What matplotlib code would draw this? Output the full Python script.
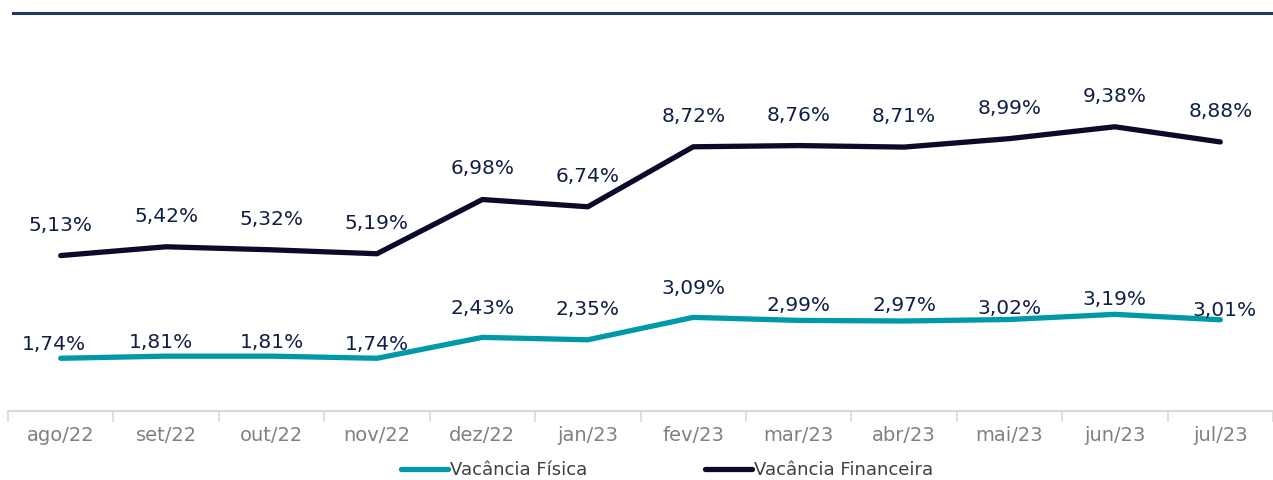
import matplotlib.pyplot as plt
import numpy as np

months = ["ago/22", "set/22", "out/22", "nov/22", "dez/22", "jan/23",
          "fev/23", "mar/23", "abr/23", "mai/23", "jun/23", "jul/23"]
vac_fisica = [1.74, 1.81, 1.81, 1.74, 2.43, 2.35, 3.09, 2.99, 2.97, 3.02, 3.19, 3.01]
vac_financeira = [5.13, 5.42, 5.32, 5.19, 6.98, 6.74, 8.72, 8.76, 8.71, 8.99, 9.38, 8.88]

# label offsets (points) above the line for the Física series
dy_fis = [10, 10, 10, 10, 21, 22, 21, 11, 11, 8, 11, 7]
dx_fis = [-5, -4, 0, 0, 0, 0, 0, 0, 0, 0, 0, 3]

teal = "#0099A8"
dark = "#0B0A2A"
txt = "#0F1F45"

fig = plt.figure(figsize=(12.73, 4.8), dpi=100)
ax = fig.add_axes([8 / 1273, 1 - 411 / 480, 1 - 8 / 1273, (411 - 47.4) / 480])
x = np.arange(len(months))

ax.plot(x, vac_financeira, color=dark, lw=3.8, solid_capstyle="round",
        label="Vacância Financeira", zorder=3)
ax.plot(x, vac_fisica, color=teal, lw=3.8, solid_capstyle="round",
        label="Vacância Física", zorder=3)

for i, v in enumerate(vac_financeira):
    ax.annotate(f"{v:.2f}%".replace(".", ","), (i, v), xytext=(0, 22),
                textcoords="offset points", ha="center", va="center",
                fontsize=14.5, color=txt)
for i, v in enumerate(vac_fisica):
    ax.annotate(f"{v:.2f}%".replace(".", ","), (i, v), xytext=(dx_fis[i], dy_fis[i]),
                textcoords="offset points", ha="center", va="center",
                fontsize=14.5, color=txt, zorder=4)

ax.set_xlim(-0.5, len(months) - 0.5)
ax.set_ylim(0, 12)
ax.set_xticks(x)
ax.set_xticklabels(months, fontsize=14, color="#808080")
ax.set_xticks(np.arange(len(months) + 1) - 0.5, minor=True)
ax.tick_params(axis="x", which="major", length=0, pad=11)
ax.tick_params(axis="x", which="minor", length=8, color="#D9D9D9", width=1.2)
ax.set_yticks([])
for s in ["top", "right", "left"]:
    ax.spines[s].set_visible(False)
ax.spines["bottom"].set_color("#D9D9D9")
ax.spines["bottom"].set_linewidth(1.5)

handles, labels = ax.get_legend_handles_labels()
fig.legend(handles[::-1], labels[::-1], loc="center", bbox_to_anchor=(0.524, 1 - 470 / 480),
           ncol=2, frameon=False, fontsize=13, handlelength=2.6, handletextpad=0.1,
           columnspacing=6.5, labelcolor="#404040")

fig.add_artist(plt.Line2D([13 / 1273, 1], [1 - 12.5 / 480] * 2, color="#1F3864", lw=2.2))

fig.savefig("out.png", dpi=100)
